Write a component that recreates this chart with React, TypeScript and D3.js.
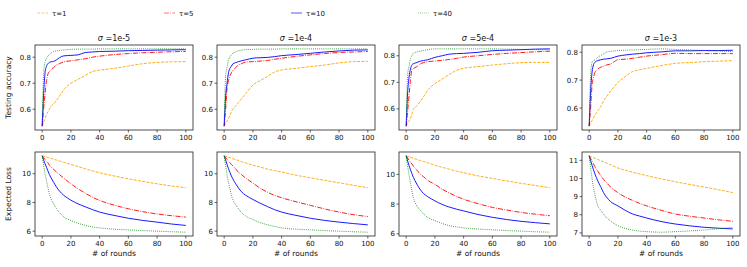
import * as d3 from 'd3'

// x positions (communication rounds) where values were read
const rounds = [0, 1, 2, 3, 4, 5, 6, 8, 10, 12, 15, 20, 25, 30, 35, 40, 50, 60, 70, 80, 90, 100]

const sigmas = ['1e-5', '1e-4', '5e-4', '1e-3']
const taus = ['τ=1', 'τ=5', 'τ=10', 'τ=40']
const xTicks = [0, 20, 40, 60, 80, 100]
const accTicks = [0.6, 0.7, 0.8]
const lossTicks = [
	[6, 8, 10],
	[6, 8, 10],
	[6, 8, 10],
	[7, 8, 9, 10, 11],
]

// testing accuracy, one array per tau, for each sigma
const acc1e5 = [
	[0.535, 0.55, 0.565, 0.58, 0.59, 0.6, 0.61, 0.62, 0.635, 0.65, 0.675, 0.7, 0.715, 0.73, 0.745, 0.75, 0.757, 0.766, 0.775, 0.78, 0.782, 0.783],
	[0.535, 0.6, 0.66, 0.71, 0.735, 0.745, 0.752, 0.76, 0.77, 0.775, 0.782, 0.786, 0.79, 0.794, 0.8, 0.804, 0.81, 0.814, 0.817, 0.819, 0.821, 0.822],
	[0.535, 0.66, 0.74, 0.765, 0.775, 0.78, 0.782, 0.784, 0.79, 0.798, 0.805, 0.807, 0.809, 0.818, 0.82, 0.822, 0.823, 0.825, 0.826, 0.827, 0.828, 0.829],
	[0.535, 0.74, 0.78, 0.795, 0.805, 0.81, 0.815, 0.822, 0.824, 0.826, 0.828, 0.83, 0.831, 0.831, 0.831, 0.832, 0.832, 0.832, 0.832, 0.832, 0.832, 0.832],
]
const acc1e4 = [
	[0.535, 0.545, 0.555, 0.565, 0.575, 0.59, 0.6, 0.612, 0.626, 0.64, 0.66, 0.693, 0.71, 0.725, 0.743, 0.751, 0.757, 0.764, 0.77, 0.778, 0.783, 0.784],
	[0.535, 0.6, 0.68, 0.71, 0.729, 0.74, 0.748, 0.76, 0.77, 0.775, 0.781, 0.783, 0.785, 0.787, 0.792, 0.796, 0.803, 0.809, 0.814, 0.818, 0.82, 0.822],
	[0.535, 0.65, 0.7, 0.74, 0.757, 0.765, 0.774, 0.779, 0.783, 0.786, 0.79, 0.796, 0.798, 0.799, 0.802, 0.806, 0.81, 0.815, 0.82, 0.824, 0.827, 0.828],
	[0.535, 0.73, 0.76, 0.79, 0.8, 0.81, 0.815, 0.82, 0.825, 0.827, 0.829, 0.83, 0.831, 0.831, 0.831, 0.832, 0.832, 0.832, 0.832, 0.832, 0.832, 0.832],
]
const acc5e4 = [
	[0.535, 0.545, 0.555, 0.565, 0.58, 0.6, 0.605, 0.615, 0.63, 0.645, 0.67, 0.695, 0.712, 0.73, 0.745, 0.753, 0.759, 0.765, 0.77, 0.774, 0.775, 0.775],
	[0.535, 0.59, 0.65, 0.71, 0.748, 0.752, 0.755, 0.761, 0.77, 0.774, 0.778, 0.78, 0.783, 0.786, 0.79, 0.795, 0.8, 0.805, 0.809, 0.812, 0.815, 0.817],
	[0.535, 0.66, 0.72, 0.75, 0.766, 0.77, 0.772, 0.776, 0.78, 0.782, 0.785, 0.794, 0.8, 0.806, 0.808, 0.809, 0.813, 0.819, 0.821, 0.823, 0.825, 0.826],
	[0.535, 0.73, 0.76, 0.79, 0.8, 0.81, 0.812, 0.815, 0.818, 0.82, 0.823, 0.826, 0.826, 0.826, 0.826, 0.826, 0.826, 0.826, 0.825, 0.824, 0.823, 0.822],
]
const acc1e3 = [
	[0.535, 0.545, 0.555, 0.565, 0.575, 0.583, 0.59, 0.605, 0.625, 0.64, 0.661, 0.691, 0.712, 0.73, 0.737, 0.742, 0.752, 0.76, 0.763, 0.766, 0.768, 0.77],
	[0.535, 0.6, 0.68, 0.71, 0.728, 0.735, 0.74, 0.746, 0.75, 0.754, 0.758, 0.773, 0.775, 0.778, 0.782, 0.786, 0.791, 0.796, 0.795, 0.795, 0.795, 0.795],
	[0.535, 0.66, 0.728, 0.755, 0.764, 0.768, 0.77, 0.773, 0.775, 0.776, 0.778, 0.786, 0.79, 0.793, 0.795, 0.798, 0.801, 0.805, 0.805, 0.806, 0.806, 0.807],
	[0.535, 0.72, 0.764, 0.77, 0.773, 0.776, 0.782, 0.788, 0.794, 0.8, 0.803, 0.806, 0.807, 0.808, 0.809, 0.81, 0.812, 0.81, 0.808, 0.806, 0.804, 0.802],
]

// expected loss
const loss1e5 = [
	[11.25, 11.22, 11.19, 11.16, 11.13, 11.1, 11.07, 11.01, 10.95, 10.89, 10.8, 10.65, 10.5, 10.35, 10.2, 10.07, 9.85, 9.65, 9.47, 9.3, 9.15, 9.02],
	[11.25, 11.12, 10.99, 10.87, 10.76, 10.6, 10.5, 10.3, 10.12, 9.95, 9.7, 9.3, 8.95, 8.65, 8.37, 8.14, 7.82, 7.56, 7.36, 7.2, 7.08, 6.98],
	[11.25, 10.95, 10.7, 10.45, 10.2, 9.95, 9.75, 9.4, 9.07, 8.8, 8.5, 8.16, 7.9, 7.7, 7.5, 7.33, 7.1, 6.9, 6.75, 6.63, 6.5, 6.4],
	[11.25, 10.6, 10.0, 9.5, 9.05, 8.6, 8.3, 7.9, 7.56, 7.3, 7.0, 6.74, 6.55, 6.4, 6.3, 6.23, 6.14, 6.09, 6.04, 6.0, 5.96, 5.93],
]
const loss1e4 = [
	[11.25, 11.22, 11.18, 11.15, 11.12, 11.08, 11.05, 10.98, 10.92, 10.85, 10.75, 10.6, 10.47, 10.33, 10.22, 10.12, 9.9, 9.72, 9.54, 9.37, 9.2, 9.02],
	[11.25, 11.12, 11.0, 10.88, 10.77, 10.65, 10.55, 10.33, 10.1, 9.95, 9.7, 9.35, 9.0, 8.72, 8.5, 8.33, 8.05, 7.8, 7.55, 7.33, 7.15, 7.02],
	[11.25, 10.95, 10.65, 10.35, 10.1, 9.85, 9.65, 9.3, 9.0, 8.75, 8.5, 8.21, 7.95, 7.72, 7.5, 7.33, 7.1, 6.9, 6.75, 6.63, 6.53, 6.44],
	[11.25, 10.55, 9.95, 9.4, 8.95, 8.5, 8.2, 7.85, 7.56, 7.3, 7.05, 6.81, 6.6, 6.45, 6.33, 6.23, 6.14, 6.09, 6.04, 6.0, 5.96, 5.93],
]
const loss5e4 = [
	[11.25, 11.22, 11.18, 11.15, 11.12, 11.08, 11.05, 10.99, 10.93, 10.87, 10.78, 10.62, 10.48, 10.35, 10.22, 10.11, 9.9, 9.73, 9.56, 9.4, 9.25, 9.11],
	[11.25, 11.1, 10.95, 10.82, 10.7, 10.55, 10.45, 10.22, 10.0, 9.85, 9.6, 9.33, 9.0, 8.75, 8.52, 8.33, 8.03, 7.78, 7.6, 7.44, 7.32, 7.22],
	[11.25, 10.9, 10.6, 10.3, 10.05, 9.8, 9.6, 9.25, 8.95, 8.72, 8.5, 8.22, 7.98, 7.8, 7.66, 7.54, 7.3, 7.11, 6.96, 6.84, 6.75, 6.67],
	[11.25, 10.55, 9.95, 9.4, 8.9, 8.44, 8.15, 7.8, 7.56, 7.35, 7.1, 6.89, 6.7, 6.55, 6.47, 6.4, 6.32, 6.27, 6.22, 6.18, 6.14, 6.11],
]
const loss1e3 = [
	[11.25, 11.22, 11.18, 11.15, 11.12, 11.08, 11.05, 10.98, 10.92, 10.85, 10.75, 10.58, 10.46, 10.35, 10.25, 10.16, 9.98, 9.82, 9.67, 9.53, 9.38, 9.22],
	[11.25, 11.1, 10.95, 10.8, 10.65, 10.52, 10.4, 10.17, 9.95, 9.78, 9.52, 9.22, 8.98, 8.8, 8.63, 8.49, 8.25, 8.04, 7.92, 7.82, 7.72, 7.64],
	[11.25, 10.98, 10.72, 10.48, 10.25, 10.05, 9.87, 9.55, 9.22, 8.98, 8.72, 8.49, 8.25, 8.05, 7.93, 7.82, 7.63, 7.49, 7.39, 7.31, 7.26, 7.22],
	[11.25, 10.6, 10.0, 9.5, 9.1, 8.76, 8.5, 8.25, 8.04, 7.85, 7.65, 7.4, 7.25, 7.16, 7.1, 7.07, 7.04, 7.07, 7.11, 7.16, 7.23, 7.31],
]

const accData = [acc1e5, acc1e4, acc5e4, acc1e3]
const lossData = [loss1e5, loss1e4, loss5e4, loss1e3]

const colors = ['#ffa500', '#ff0000', '#0000ff', '#008000']
const dashes = ['3,1.3', '5,1.3,0.8,1.3', '', '0.8,1.3']

const font = 'DejaVu Sans, sans-serif'
const panelLeft = [35, 217, 399, 582]
const panelW = 158
const topRow = { y: 45, h: 85 }
const botRow = { y: 152, h: 84 }

function paddedDomain(series: number[][]) {
	const all = series.flat()
	const lo = d3.min(all) as number
	const hi = d3.max(all) as number
	const pad = (hi - lo) * 0.05
	return [lo - pad, hi + pad]
}

const Panel = ({ left, row, series, yTicks, yFmt, title, xLabel }: any) => {
	const x = d3.scaleLinear().domain([-5, 105]).range([left, left + panelW])
	const y = d3.scaleLinear().domain(paddedDomain(series)).range([row.y + row.h, row.y])
	const line = d3
		.line<number>()
		.x((_, i) => x(rounds[i]))
		.y((d) => y(d))
		.curve(d3.curveMonotoneX)
	const bottom = row.y + row.h
	return (
		<g>
			<defs>
				<clipPath id={'clip' + left + row.y}>
					<rect x={left} y={row.y} width={panelW} height={row.h} />
				</clipPath>
			</defs>
			<g clipPath={'url(#clip' + left + row.y + ')'}>
				{series.map((s: number[], i: number) => (
					<path
						key={i}
						d={line(s) as string}
						fill="none"
						stroke={colors[i]}
						strokeWidth={0.9}
						strokeDasharray={dashes[i] || undefined}
					/>
				))}
			</g>
			<rect x={left} y={row.y} width={panelW} height={row.h} fill="none" stroke="#222" strokeWidth={0.8} />
			{xTicks.map((t) => (
				<g key={t}>
					<line x1={x(t)} x2={x(t)} y1={bottom} y2={bottom + 2.5} stroke="#222" strokeWidth={0.7} />
					<text x={x(t)} y={bottom + 10} fontSize={7} textAnchor="middle" fontFamily={font} fill="#111">
						{t}
					</text>
				</g>
			))}
			{yTicks.map((t: number) => (
				<g key={t}>
					<line x1={left - 2.5} x2={left} y1={y(t)} y2={y(t)} stroke="#222" strokeWidth={0.7} />
					<text x={left - 4} y={y(t) + 2.5} fontSize={7} textAnchor="end" fontFamily={font} fill="#111">
						{yFmt(t)}
					</text>
				</g>
			))}
			{title && (
				<text x={left + panelW / 2} y={row.y - 4} fontSize={8} textAnchor="middle" fontFamily={font} fill="#111">
					<tspan fontStyle="italic">σ</tspan> =
					{title}
				</text>
			)}
			{xLabel && (
				<text x={left + panelW / 2} y={bottom + 20} fontSize={7.5} textAnchor="middle" fontFamily={font} fill="#111">
					{xLabel}
				</text>
			)}
		</g>
	)
}

export default function App() {
	const legendX = d3.scaleLinear().domain([0, 4]).range([37, 545])
	return (
		<svg width={747} height={267} style={{ position: 'absolute', left: 0, top: 0, background: '#fff' }}>
			{taus.map((t, i) => (
				<g key={t}>
					<line
						x1={legendX(i)}
						x2={legendX(i) + 11}
						y1={13}
						y2={13}
						stroke={colors[i]}
						strokeOpacity={0.55}
						strokeWidth={1.2}
						strokeDasharray={dashes[i] || undefined}
					/>
					<text x={legendX(i) + 15} y={15.5} fontSize={7} fontFamily={font} fill="#111">
						{t}
					</text>
				</g>
			))}
			<text
				transform={`translate(11,${topRow.y + topRow.h / 2}) rotate(-90)`}
				fontSize={7.5}
				textAnchor="middle"
				fontFamily={font}
				fill="#111"
			>
				Testing accuracy
			</text>
			<text
				transform={`translate(11,${botRow.y + botRow.h / 2}) rotate(-90)`}
				fontSize={7.5}
				textAnchor="middle"
				fontFamily={font}
				fill="#111"
			>
				Expected Loss
			</text>
			{sigmas.map((s, i) => (
				<Panel
					key={'a' + s}
					left={panelLeft[i]}
					row={topRow}
					series={accData[i]}
					yTicks={accTicks}
					yFmt={d3.format('.1f')}
					title={s}
				/>
			))}
			{sigmas.map((s, i) => (
				<Panel
					key={'l' + s}
					left={panelLeft[i]}
					row={botRow}
					series={lossData[i]}
					yTicks={lossTicks[i]}
					yFmt={d3.format('d')}
					xLabel="# of rounds"
				/>
			))}
		</svg>
	)
}
